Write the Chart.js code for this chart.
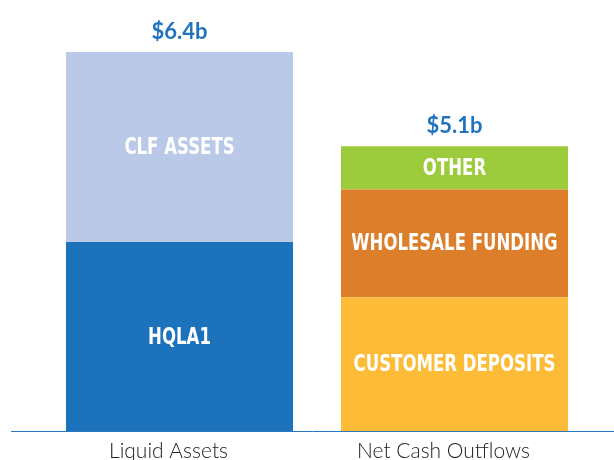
<!DOCTYPE html>
<html>
<head>
<meta charset="utf-8">
<script src="https://cdn.jsdelivr.net/npm/chart.js@4"></script>
<style>
    html, body { margin: 0; padding: 0; background: #fff; }
    #wrap { width: 614px; height: 460px; position: relative; }
</style>
</head>
<body>
<div id="wrap"><canvas id="lcrChart"></canvas></div>
<script>
// categories and values ($ billions)
const categories = ['Liquid Assets', 'Net Cash Outflows'];
const totalLabels = ['$6.4b', '$5.1b'];

const hqla1 = [3.19, null];
const clfAssets = [3.21, null];
const customerDeposits = [null, 2.26];
const wholesaleFunding = [null, 1.82];
const other = [null, 0.73];

// draws segment names inside the bars, totals on top and the long base line
const barTextPlugin = {
    id: 'barText',
    afterDatasetsDraw(chart) {
        const ctx = chart.ctx;
        const area = chart.chartArea;
        ctx.save();

        // base line
        ctx.strokeStyle = '#2a78c0';
        ctx.lineWidth = 1;
        ctx.beginPath();
        ctx.moveTo(11, Math.round(area.bottom) + 0.5);
        ctx.lineTo(chart.width, Math.round(area.bottom) + 0.5);
        ctx.stroke();

        // segment labels, squeezed to look like a condensed face
        ctx.fillStyle = '#ffffff';
        ctx.font = 'bold 23px "DejaVu Sans", sans-serif';
        ctx.textAlign = 'center';
        ctx.textBaseline = 'middle';
        chart.data.datasets.forEach(function(ds, i) {
            const meta = chart.getDatasetMeta(i);
            meta.data.forEach(function(bar, j) {
                if (ds.data[j] == null) return;
                const txt = ds.label.toUpperCase();
                const w = ctx.measureText(txt).width * 0.72;
                ctx.fillText(txt, bar.x, (bar.y + bar.base) / 2 + 1, w);
            });
        });

        // totals
        ctx.fillStyle = '#1f74bd';
        ctx.font = 'bold 22px Lato, "Open Sans", sans-serif';
        ctx.textBaseline = 'alphabetic';
        categories.forEach(function(c, j) {
            let top = null, x = null;
            chart.data.datasets.forEach(function(ds, i) {
                if (ds.data[j] == null) return;
                const bar = chart.getDatasetMeta(i).data[j];
                if (top === null || bar.y < top) top = bar.y;
                x = bar.x;
            });
            ctx.fillText(totalLabels[j], x, top - 13);
        });
        ctx.restore();
    }
};

new Chart(document.getElementById('lcrChart'), {
    type: 'bar',
    data: {
        labels: categories,
        datasets: [{
            label: 'HQLA1',
            data: hqla1,
            backgroundColor: '#1c72bb'
        }, {
            label: 'CLF Assets',
            data: clfAssets,
            backgroundColor: '#bac9e8'
        }, {
            label: 'Customer Deposits',
            data: customerDeposits,
            backgroundColor: '#fdbc37'
        }, {
            label: 'Wholesale Funding',
            data: wholesaleFunding,
            backgroundColor: '#dd7e2b'
        }, {
            label: 'Other',
            data: other,
            backgroundColor: '#9ccc3c'
        }]
    },
    options: {
        responsive: true,
        maintainAspectRatio: false,
        animation: false,
        barPercentage: 0.8255,
        categoryPercentage: 1,
        layout: {
            padding: { top: 52, left: 42, right: 22, bottom: 0 }
        },
        scales: {
            x: {
                stacked: true,
                grid: { display: false, drawTicks: false, tickLength: 0 },
                border: { display: false },
                afterFit: function(scale) {
                    scale.height = 29; // keeps the base line at the same height as the picture
                },
                ticks: {
                    color: '#222222',
                    padding: 10,
                    labelOffset: -11,
                    font: { family: 'Lato, "Open Sans", sans-serif', size: 21, weight: 300, lineHeight: 1 }
                }
            },
            y: {
                stacked: true,
                display: false,
                min: 0,
                max: 6.4
            }
        },
        plugins: {
            legend: { display: false },
            tooltip: { enabled: false }
        }
    },
    plugins: [barTextPlugin]
});
</script>
</body>
</html>
